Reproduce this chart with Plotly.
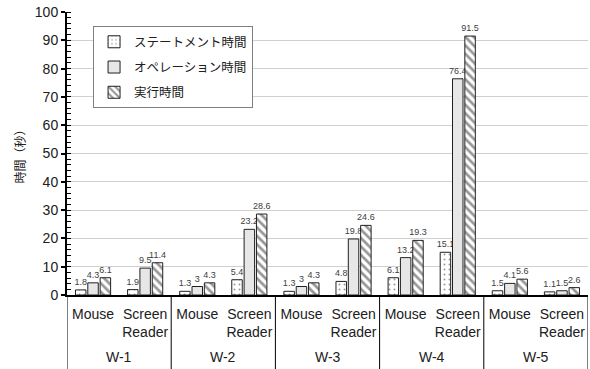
import plotly.graph_objects as go

group_names = ["W-1", "W-2", "W-3", "W-4", "W-5"]
method_names = ["Mouse", "Screen<br>Reader"]
series_names = ["ステートメント時間", "オペレーション時間", "実行時間"]
statement = [1.8, 1.9, 1.3, 5.4, 1.3, 4.8, 6.1, 15.1, 1.5, 1.1]
operation = [4.3, 9.5, 3, 23.2, 3, 19.8, 13.2, 76.4, 4.1, 1.5]
execution = [6.1, 11.4, 4.3, 28.6, 4.3, 24.6, 19.3, 91.5, 5.6, 2.6]
y_ticks = list(range(0, 101, 10))

keys = [f"{g}|{m}" for g in group_names for m in method_names]
tick_text = [m for g in group_names for m in method_names]

patterns = [
    dict(shape=".", fgcolor="#303030", bgcolor="white", size=5, solidity=0.12),
    dict(shape=".", fgcolor="#a0a0a0", bgcolor="#f0f0f0", size=2, solidity=0.3),
    dict(shape="\\", fgcolor="#303030", bgcolor="white", size=6, solidity=0.45),
]

fig = go.Figure()
for i, (name, vals, pat) in enumerate(zip(series_names, [statement, operation, execution], patterns)):
    fig.add_trace(go.Bar(
        x=keys, y=vals, name=name, legendgroup=f"g{i}",
        marker=dict(color="white", pattern=pat, line=dict(color="#202020", width=1)),
        text=[f"{v:g}" for v in vals], textposition="outside",
        textfont=dict(size=9, color="#404040", family="Liberation Sans Narrow, Liberation Sans"),
        constraintext="none", cliponaxis=False,
    ))

n_per_group = len(method_names)
# group labels and dividers below the axis
for gi, g in enumerate(group_names):
    fig.add_annotation(
        x=gi * n_per_group + (n_per_group - 1) / 2, xref="x",
        y=-0.219, yref="paper", yanchor="middle",
        text=g, showarrow=False, font=dict(size=14, color="#202020"),
    )
for b in range(len(group_names) + 1):
    fig.add_shape(
        type="line", xref="x", yref="paper",
        x0=b * n_per_group - 0.5, x1=b * n_per_group - 0.5, y0=0, y1=-0.27,
        line=dict(color="black", width=1),
    )

fig.update_layout(
    width=590, height=369,
    margin=dict(l=67, r=2, t=12, b=74),
    plot_bgcolor="white", paper_bgcolor="white",
    barmode="group", bargap=0.29, bargroupgap=0.15,
    font=dict(family="Liberation Sans", size=14, color="#202020"),
    showlegend=True,
    legend=dict(
        x=0.05, y=0.95, xanchor="left", yanchor="top",
        bgcolor="white", bordercolor="#808080", borderwidth=1,
        font=dict(family="Noto Sans CJK JP", size=12.5, color="#202020"),
        tracegroupgap=6,
    ),
)
fig.update_yaxes(
    range=[0, 100], tickvals=y_ticks, ticktext=[str(v) for v in y_ticks],
    showgrid=True, gridcolor="#d0d0d0", gridwidth=1,
    showline=True, linecolor="black", linewidth=2,
    ticks="outside", ticklen=4, tickcolor="black", tickwidth=2,
    minor=dict(dtick=2, ticks="inside", ticklen=4, tickcolor="black", tickwidth=1, showgrid=False),
    tickfont=dict(size=14),
    title=dict(text="時間（秒）", font=dict(family="Noto Sans CJK JP", size=12, color="#202020"), standoff=7),
    zeroline=False,
)
fig.update_xaxes(
    type="category", categoryorder="array", categoryarray=keys,
    range=[-0.5, len(keys) - 0.5],
    tickvals=keys, ticktext=tick_text,
    showline=True, linecolor="black", linewidth=2,
    tickfont=dict(size=14),
    tickangle=0,
    ticklabelstandoff=5,
    ticks="",
)
fig.write_html("out.html")
